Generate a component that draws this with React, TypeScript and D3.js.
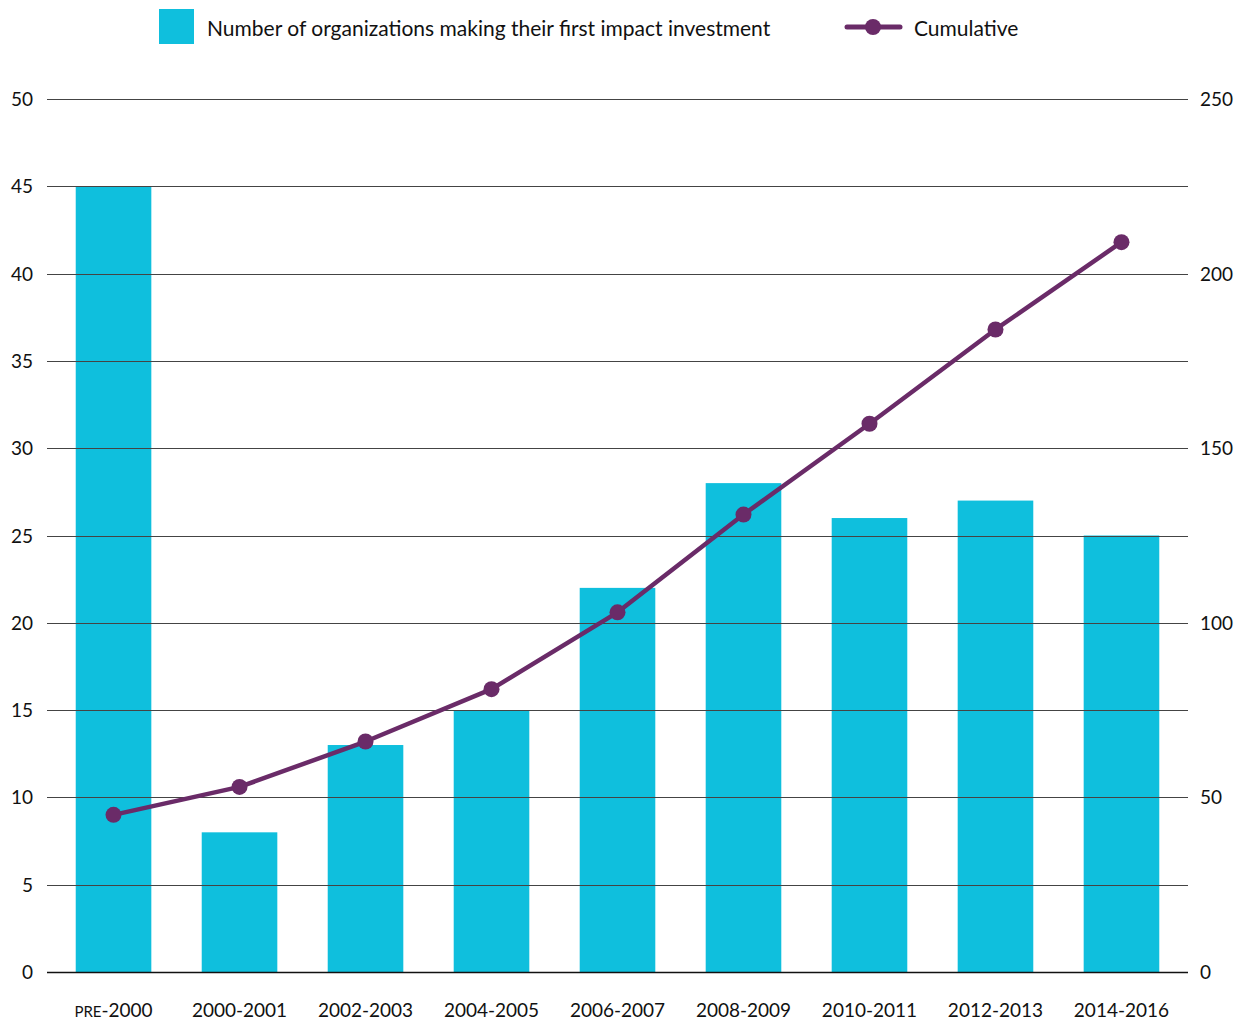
import React from "react";
import * as d3 from "d3";

const categories = ["PRE-2000", "2000-2001", "2002-2003", "2004-2005", "2006-2007", "2008-2009", "2010-2011", "2012-2013", "2014-2016"];
const firstInvestments = [45, 8, 13, 15, 22, 28, 26, 27, 25];
const cumulative = [45, 53, 66, 81, 103, 131, 157, 184, 209];
const leftTicks = [0, 5, 10, 15, 20, 25, 30, 35, 40, 45, 50];
const rightTicks = [0, 50, 100, 150, 200, 250];

const BAR = "#0FBFDD";
const LINE = "#6A2B68";
const FONT = "Lato, 'Open Sans', sans-serif";

export default function App() {
  const W = 1249, H = 1021;
  const x0 = 47, x1 = 1188, yTop = 99, yBot = 972;
  const x = d3.scaleBand<string>().domain(categories).range([x0, x1]).paddingInner(0.4).paddingOuter(0.228);
  const yL = d3.scaleLinear().domain([0, 50]).range([yBot, yTop]);
  const yR = d3.scaleLinear().domain([0, 250]).range([yBot, yTop]);
  const cx = (c: string) => (x(c) as number) + x.bandwidth() / 2;
  const line = d3.line<number>().x((_, i) => cx(categories[i])).y((d) => yR(d));

  return (
    <svg width={W} height={H} style={{ display: "block", position: "absolute", left: 0, top: 0 }} fontFamily={FONT}>
      <rect width={W} height={H} fill="#fff" />
      {/* legend */}
      <rect x={159} y={9} width={35} height={35} fill={BAR} />
      <text x={207} y={36} fontSize={21} fill="#111">Number of organizations making their first impact investment</text>
      <line x1={847} x2={900} y1={27} y2={27} stroke={LINE} strokeWidth={5} strokeLinecap="round" />
      <circle cx={873} cy={27} r={8} fill={LINE} />
      <text x={914} y={36} fontSize={21} fill="#111">Cumulative</text>

      {/* bars */}
      {firstInvestments.map((v, i) => (
        <rect key={i} x={x(categories[i])} y={yL(v)} width={x.bandwidth()} height={yBot - yL(v)} fill={BAR} />
      ))}

      {/* grid */}
      {leftTicks.map((t) => (
        <line key={t} x1={x0} x2={x1} y1={Math.round(yL(t)) + 0.5} y2={Math.round(yL(t)) + 0.5} stroke={t === 0 ? "#111" : "#444"} strokeWidth={t === 0 ? 1.5 : 1} />
      ))}

      {/* left ticks */}
      {leftTicks.map((t) => (
        <text key={t} x={33} y={yL(t) + 7} fontSize={19} textAnchor="end" fill="#111">{t}</text>
      ))}
      {/* right ticks */}
      {rightTicks.map((t) => (
        <text key={t} x={1200} y={yR(t) + 7} fontSize={19} textAnchor="start" fill="#111">{t}</text>
      ))}

      {/* x labels */}
      {categories.map((c) => (
        <text key={c} x={cx(c)} y={1017} fontSize={19} textAnchor="middle" fill="#111">
          {c.startsWith("PRE") ? (
            <>
              <tspan fontSize={15}>PRE</tspan>
              <tspan>{c.slice(3)}</tspan>
            </>
          ) : c}
        </text>
      ))}

      {/* cumulative line */}
      <path d={line(cumulative) || ""} fill="none" stroke={LINE} strokeWidth={4.5} strokeLinejoin="round" />
      {cumulative.map((v, i) => (
        <circle key={i} cx={cx(categories[i])} cy={yR(v)} r={8} fill={LINE} />
      ))}
    </svg>
  );
}
